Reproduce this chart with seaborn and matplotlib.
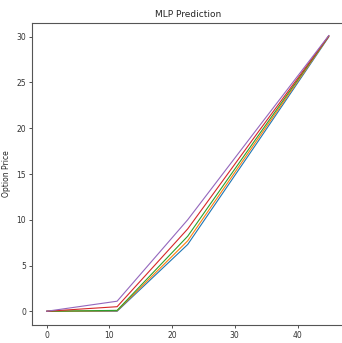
import matplotlib
matplotlib.use("Agg")
import matplotlib.pyplot as plt
import seaborn as sns
import pandas as pd

stock_price = [0.0, 11.25, 22.5, 33.75, 45.0]
pred_1 = [0.0, 0.0, 7.3, 18.6, 30.0]
pred_2 = [0.0, 0.05, 7.7, 18.9, 30.05]
pred_3 = [0.0, 0.1, 8.2, 19.2, 30.1]
pred_4 = [0.0, 0.5, 9.0, 19.6, 30.1]
pred_5 = [0.0, 1.1, 10.0, 20.1, 30.15]

series = [pred_1, pred_2, pred_3, pred_4, pred_5]
rows = []
for i, s in enumerate(series):
    for x, y in zip(stock_price, s):
        rows.append({"Stock Price": x, "Option Price": y, "model": f"m{i}"})
df = pd.DataFrame(rows)

sns.set_style("white")
plt.rcParams['font.family'] = ['DejaVu Sans']
fig = plt.figure(figsize=(3.42, 3.43), dpi=100)
ax = fig.add_axes([32.4 / 342, (343 - 325) / 343, (343 - 32.4) / 342, (325 - 23) / 343])
palette = sns.color_palette("tab10", 5)
sns.lineplot(data=df, x="Stock Price", y="Option Price", hue="model", palette=palette,
             linewidth=0.8, legend=False, ax=ax, sort=False)
for sp in ax.spines.values():
    sp.set_color("#555555")
    sp.set_linewidth(0.8)
ax.tick_params(axis="both", labelsize=5.5, length=2.5, width=0.6, colors="#333333", direction="out", bottom=True, left=True, pad=2)
ax.set_xticks([0, 10, 20, 30, 40])
ax.set_yticks([0, 5, 10, 15, 20, 25, 30])
ax.set_xlim(-2.25, 47.25)
ax.set_ylim(-1.5, 31.5)
ax.set_title("MLP Prediction", fontsize=6.5, pad=4)
ax.set_xlabel("Stock Price", fontsize=5.5, labelpad=2)
ax.set_ylabel("Option Price", fontsize=5.5, labelpad=4)
fig.savefig("out.png", dpi=100)
